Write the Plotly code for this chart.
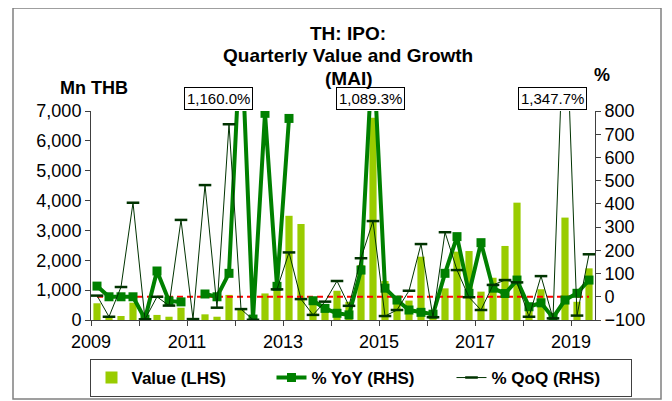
import plotly.graph_objects as go

# quarterly data, 2009Q1 .. 2019Q2
years = list(range(2009, 2020))
quarters = [f"{y}Q{q}" for y in years for q in range(1, 5)][:42]

value_mn_thb = [560, 110, 135, 580, 0, 170, 110, 410, 25, 190,
                110, 840, 360, 0, 890, 1000, 3490, 3215, 610, 535,
                980, 610, 1840, 6775, 1305, 535, 650, 2120, 250, 1060,
                2290, 2310, 950, 1415, 2480, 3930, 500, 1030, 240, 3430,
                610, 1730]

yoy_pct = [46, 0, 0, 0, -96, 111, -18, -22, None, 12,
           0, 101, 1160.0, -96, 790, 45, 768, None, -17, -50,
           -71, -78, 115, 1089.3, 37, -14, -57, -67, -75, 101,
           259, 15, 233, 37, 14, 72, -43, -26, -90, -14,
           15, 72]

qoq_pct = [5, -86, 42, 405, -97, 0, -38, 331, -96, 481,
           -47, 743, -53, -99, None, 32, 191, -10, -78, -21,
           68, -39, 166, 326, -83, -57, 26, 227, -88, 278,
           115, -2, -57, 51, 72, 62, -86, 89, -93, 1347.7,
           -81, 183]

zero_line = [0] * len(quarters)
x_idx = list(range(len(quarters)))

FONT = "Liberation Sans, Arial, sans-serif"

# page body adds an 8px offset, so the figure is 8px smaller;
# plot area on screen: x 91..595, y 111..320
def px(x):
    return (x - 91) / 504

def py(y):
    return (320 - y) / 209

fig = go.Figure()

fig.add_trace(go.Bar(
    x=x_idx, y=value_mn_thb, name="Value (LHS)",
    marker=dict(color="#99cc00", line=dict(width=0)),
    legendrank=1))

fig.add_trace(go.Scatter(
    x=x_idx, y=zero_line, yaxis="y2", mode="lines",
    line=dict(color="#ff0000", width=2, dash="6px,4px"),
    showlegend=False, hoverinfo="skip"))

fig.add_trace(go.Scatter(
    x=x_idx, y=yoy_pct, yaxis="y2", mode="lines+markers",
    name="% YoY (RHS)",
    line=dict(color="#008000", width=4),
    marker=dict(symbol="square", size=9, color="#008000"),
    legendrank=2))

fig.add_trace(go.Scatter(
    x=x_idx, y=qoq_pct, yaxis="y2", mode="lines+markers",
    name="% QoQ (RHS)",
    line=dict(color="#003300", width=1),
    marker=dict(symbol="line-ew", size=9, line=dict(color="#003300", width=2.5)),
    legendrank=3))

# off-scale values get a boxed label
peaks = [(12, yoy_pct[12], -23), (23, yoy_pct[23], -3), (39, qoq_pct[39], -13)]
for i, v, shift in peaks:
    fig.add_annotation(x=i, xref="x", y=py(110), yref="paper", yanchor="bottom",
                       xshift=shift, text=f"{v:,.1f}%", showarrow=False,
                       font=dict(family=FONT, size=15, color="black"),
                       bgcolor="white", bordercolor="black", borderwidth=1, borderpad=2)

title_lines = ["TH: IPO:", "Quarterly Value and Growth", "(MAI)"]
for line, ypix in zip(title_lines, [33, 55.5, 78]):
    fig.add_annotation(x=px(348), y=py(ypix), xref="paper", yref="paper",
                       text=f"<b>{line}</b>", showarrow=False, yanchor="middle",
                       font=dict(family=FONT, size=19, color="black"))

fig.add_annotation(x=px(58), y=py(88), xref="paper", yref="paper", text="<b>Mn THB</b>",
                   showarrow=False, yanchor="middle",
                   font=dict(family=FONT, size=18, color="black"))
fig.add_annotation(x=px(612), y=py(75), xref="paper", yref="paper", text="<b>%</b>",
                   showarrow=False, yanchor="middle",
                   font=dict(family=FONT, size=18, color="black"))

# outer chart frame
fig.add_shape(type="rect", xref="paper", yref="paper",
              x0=px(13), x1=px(661), y0=py(399), y1=py(8),
              line=dict(color="#808080", width=1.5), layer="below")

tickvals = [-0.5 + 4 * k for k in range(len(years))]
ticktext = [str(y) if (y - 2009) % 2 == 0 else "" for y in years]

axis_common = dict(showgrid=False, zeroline=False, showline=True, linecolor="#404040",
                   linewidth=1, ticks="outside", ticklen=5, tickcolor="#404040",
                   tickfont=dict(family=FONT, size=18, color="black"))

fig.update_layout(
    width=664, height=393,
    margin=dict(l=83, r=77, t=103, b=81, autoexpand=False),
    paper_bgcolor="white", plot_bgcolor="white",
    bargap=0.4,
    showlegend=True,
    xaxis=dict(range=[-0.5, 41.5], tickmode="array", tickvals=tickvals, ticktext=ticktext,
               **axis_common),
    yaxis=dict(range=[0, 7000], dtick=1000, tickformat=",", **axis_common),
    yaxis2=dict(range=[-100, 800], dtick=100, overlaying="y", side="right", **axis_common),
    # x just left of the plot so the legend may use the full row width
    legend=dict(orientation="h", x=-0.001, xanchor="left", y=py(359), yanchor="top",
                bgcolor="white", bordercolor="#404040", borderwidth=1,
                entrywidth=135, entrywidthmode="pixels",
                font=dict(family=FONT, size=17, color="black", weight="bold")),
    font=dict(family=FONT),
)

fig.write_html("out.html")
